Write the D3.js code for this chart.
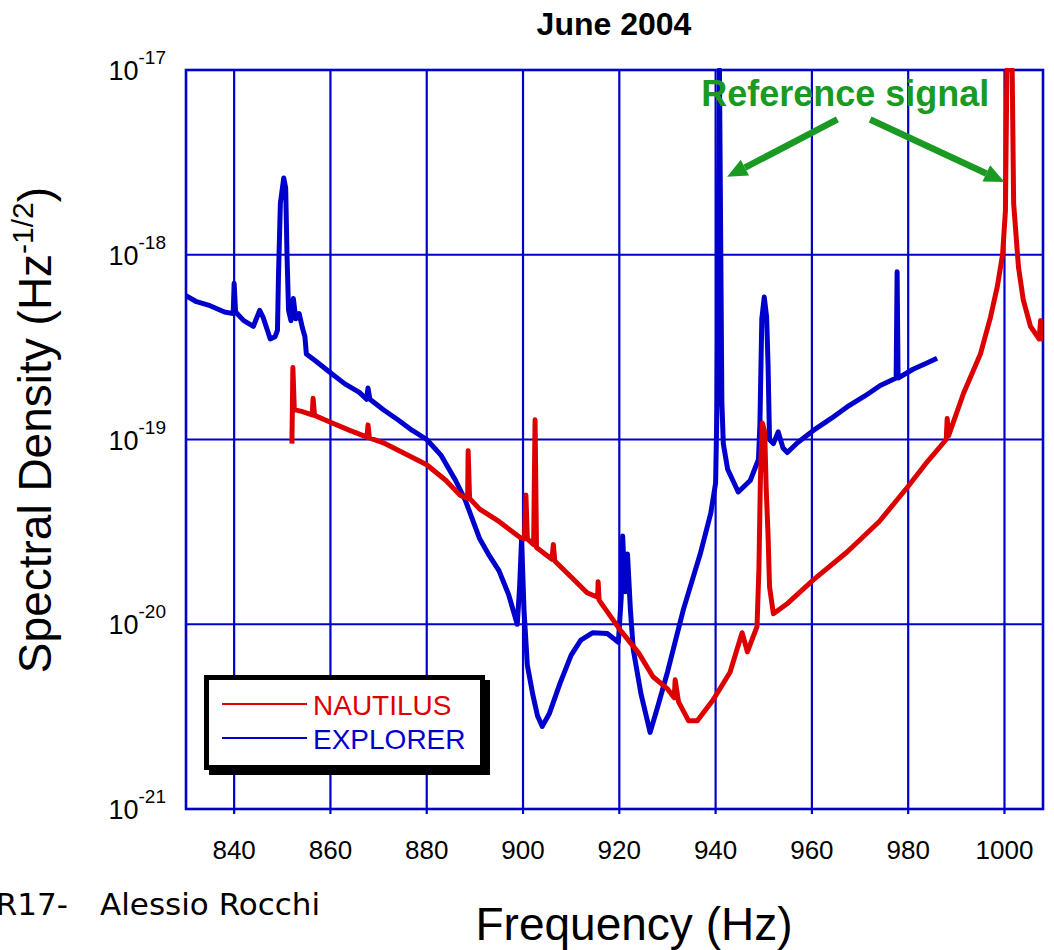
<!DOCTYPE html>
<html>
<head>
<meta charset="utf-8">
<script src="https://cdnjs.cloudflare.com/ajax/libs/d3/7.8.5/d3.min.js"></script>
<style>
  body { margin: 0; background: #fff; }
  svg { display: block; font-family: "Liberation Sans", Arial, sans-serif; }
</style>
</head>
<body>
<div id="chart"></div>
<script>
'use strict';

// axis ticks
var xTicks = [840, 860, 880, 900, 920, 940, 960, 980, 1000];
var yTicks = [1e-21, 1e-20, 1e-19, 1e-18, 1e-17];
var yTickExp = ['-21', '-20', '-19', '-18', '-17'];

// EXPLORER spectrum (Hz, Hz^-1/2)
var explorerFreq = [830, 832, 835, 838, 839.8, 840, 840.3, 842, 844, 845.3, 846, 847.5, 848.5, 849,
  849.2, 849.6, 850.3, 850.7, 851, 851.3, 851.8, 852.3, 852.8, 853.5, 854.2, 854.7, 855, 857,
  860, 863, 866, 867.5, 867.8, 868.2, 871, 874, 877, 880, 883, 886, 888, 891, 893, 895, 897,
  898.8, 899.3, 899.7, 900.2, 900.9, 902, 903, 904, 905.5, 907.7, 910, 912, 914.5, 917.5, 919.8,
  920.4, 920.7, 921.2, 921.7, 922.3, 922.9, 924.5, 926.4, 928, 930, 933.3, 936.8, 939, 940,
  940.3, 940.8, 941.3, 941.6, 942.5, 944.7, 947.2, 948.9, 949.2, 949.6, 950.1, 950.6, 950.9,
  951.2, 952, 953, 954, 954.9, 957, 960.3, 964, 967.3, 971, 974.2, 977.5, 977.7, 977.9, 981,
  984, 986];
var explorerAmp = [6.0e-19, 5.6e-19, 5.3e-19, 4.9e-19, 4.8e-19, 7.0e-19, 4.9e-19, 4.4e-19, 4.1e-19, 5.0e-19, 4.6e-19, 3.5e-19, 3.6e-19, 3.9e-19,
  7.5e-19, 1.9e-18, 2.6e-18, 2.3e-18, 9.5e-19, 5.0e-19, 4.4e-19, 5.8e-19, 4.5e-19, 4.8e-19, 4.0e-19, 3.6e-19, 2.9e-19, 2.65e-19,
  2.3e-19, 2.0e-19, 1.8e-19, 1.65e-19, 1.9e-19, 1.65e-19, 1.45e-19, 1.28e-19, 1.12e-19, 1.0e-19, 8.2e-20, 6.0e-20, 4.7e-20, 2.9e-20, 2.35e-20, 1.95e-20, 1.45e-20,
  1.0e-20, 1.6e-20, 2.9e-20, 1.2e-20, 6.0e-21, 4.2e-21, 3.2e-21, 2.8e-21, 3.3e-21, 4.8e-21, 6.8e-21, 8.2e-21, 9.0e-21, 8.9e-21, 8.0e-21,
  1.4e-20, 3.0e-20, 1.5e-20, 2.4e-20, 1.2e-20, 7.3e-21, 4.2e-21, 2.6e-21, 3.6e-21, 5.5e-21, 1.2e-20, 2.4e-20, 4.0e-20, 5.8e-20,
  1.6e-19, 1.0e-17, 1.6e-19, 9.5e-20, 6.9e-20, 5.2e-20, 6.0e-20, 7.8e-20, 1.2e-19, 4.5e-19, 5.9e-19, 4.6e-19, 2.5e-19,
  1.0e-19, 9.5e-20, 1.1e-19, 9.0e-20, 8.5e-20, 9.6e-20, 1.12e-19, 1.3e-19, 1.5e-19, 1.72e-19, 1.96e-19, 2.15e-19, 8.1e-19, 2.15e-19, 2.4e-19,
  2.6e-19, 2.75e-19];

// NAUTILUS spectrum (Hz, Hz^-1/2)
var nautilusFreq = [852, 852.2, 852.5, 854, 856.2, 856.4, 856.7, 860, 864, 867.6, 867.8, 868.1, 871, 875,
  880, 884, 886.9, 888.5, 888.6, 888.9, 891, 895, 899.4, 900.3, 900.6, 900.9, 902.2, 902.5, 902.8,
  906, 906.3, 906.6, 910, 913.3, 915.5, 915.6, 915.8, 920.2, 924, 927, 929.9, 931.4, 931.6, 932.3,
  934.4, 936.2, 939.5, 943, 945.5, 946.6, 948.6, 949.0, 949.3, 949.7, 950.2, 950.5, 950.9, 951.2,
  952, 955, 960.3, 967.3, 974, 979.8, 984, 987.9, 988.1, 988.4, 991.5, 995, 997.1, 998.5, 999.6,
  1000.2, 1000.5, 1001.6, 1001.9, 1002.9, 1003.9, 1005.4, 1007.2, 1007.5, 1008];
var nautilusAmp = [9.5e-20, 2.45e-19, 1.45e-19, 1.42e-19, 1.36e-19, 1.67e-19, 1.35e-19, 1.24e-19, 1.12e-19, 1.03e-19, 1.2e-19, 1.02e-19, 9.6e-20, 8.5e-20,
  7.3e-20, 6.0e-20, 5.0e-20, 4.8e-20, 8.7e-20, 4.8e-20, 4.2e-20, 3.6e-20, 2.95e-20, 2.9e-20, 5.0e-20, 2.9e-20, 2.7e-20, 1.28e-19, 2.6e-20,
  2.25e-20, 2.7e-20, 2.2e-20, 1.8e-20, 1.48e-20, 1.4e-20, 1.7e-20, 1.35e-20, 9.3e-21, 7.0e-21, 5.2e-21, 4.5e-21, 4.0e-21, 5.0e-21, 3.8e-21,
  3.0e-21, 3.0e-21, 3.9e-21, 5.5e-21, 9.0e-21, 7.1e-21, 9.7e-21, 2.0e-20, 6.0e-20, 1.23e-19, 1.1e-19, 5.5e-20, 3.0e-20, 1.6e-20,
  1.14e-20, 1.3e-20, 1.74e-20, 2.46e-20, 3.6e-20, 5.5e-20, 7.6e-20, 1.0e-19, 1.3e-19, 1.05e-19, 1.78e-19, 2.9e-19, 4.6e-19, 6.7e-19, 1.0e-18,
  1.74e-18, 1.0e-17, 1.0e-17, 1.9e-18, 8.6e-19, 5.7e-19, 4.1e-19, 3.5e-19, 4.4e-19, 3.4e-19];

// "Reference signal" arrows, in data units: [tailFreq, tailAmp, tipFreq, tipAmp]
var refArrows = [[965.3, 5.4e-18, 942.4, 2.64e-18], [972.1, 5.4e-18, 1000.0, 2.48e-18]];
var refLabelPos = [937.0, 6.4e-18];

var width = 1054, height = 950;
var plot = { left: 186, right: 1043, top: 70, bottom: 809 };
var gridBlue = '#0000cc', red = '#dd0000', blue = '#0000cc', green = '#1a9a22';

var x = d3.scaleLinear().domain([830, 1008]).range([plot.left, plot.right]);
var y = d3.scaleLog().domain([1e-21, 1e-17]).range([plot.bottom, plot.top]);

var svg = d3.select('#chart').append('svg').attr('width', width).attr('height', height);

svg.append('clipPath').attr('id', 'clip').append('rect')
  .attr('x', plot.left).attr('y', plot.top - 2)
  .attr('width', plot.right - plot.left).attr('height', plot.bottom - plot.top + 2);

// grid
var grid = svg.append('g').attr('stroke', gridBlue).attr('stroke-width', 2.2);
grid.selectAll('line.vx').data(xTicks).enter().append('line')
  .attr('x1', function (d) { return x(d); }).attr('x2', function (d) { return x(d); })
  .attr('y1', plot.top).attr('y2', plot.bottom + 5);
grid.selectAll('line.hy').data(yTicks).enter().append('line')
  .attr('y1', function (d) { return y(d); }).attr('y2', function (d) { return y(d); })
  .attr('x1', plot.left).attr('x2', plot.right);
grid.append('rect').attr('x', plot.left).attr('y', plot.top)
  .attr('width', plot.right - plot.left).attr('height', plot.bottom - plot.top)
  .attr('fill', 'none').attr('stroke-width', 2.6);

// x tick labels
svg.selectAll('text.xt').data(xTicks).enter().append('text')
  .attr('x', function (d) { return x(d); }).attr('y', 859)
  .attr('text-anchor', 'middle').style('font-size', '26px').text(function (d) { return d; });

// y tick labels, 10^n
var yl = svg.selectAll('text.yt').data(yTicks).enter().append('text')
  .attr('x', 166).attr('y', function (d) { return y(d) + 10; })
  .attr('text-anchor', 'end').style('font-size', '27px');
yl.append('tspan').text('10');
yl.append('tspan').attr('dy', -16).style('font-size', '19px')
  .text(function (d, i) { return yTickExp[i]; });

// curves
var line = d3.line().x(function (d) { return x(d[0]); }).y(function (d) { return y(d[1]); });
var explorer = d3.zip(explorerFreq, explorerAmp);
var nautilus = d3.zip(nautilusFreq, nautilusAmp);
var curves = svg.append('g').attr('clip-path', 'url(#clip)').attr('fill', 'none')
  .attr('stroke-width', 5).attr('stroke-linejoin', 'round');
curves.append('path').attr('stroke', blue).attr('d', line(explorer));
curves.append('path').attr('stroke', red).attr('d', line(nautilus));

// title and axis labels
svg.append('text').attr('x', 614).attr('y', 35).attr('text-anchor', 'middle')
  .style('font-size', '32px').style('font-weight', 'bold').text('June 2004');
svg.append('text').attr('x', 634).attr('y', 940).attr('text-anchor', 'middle')
  .style('font-size', '46px').text('Frequency (Hz)');
var ylab = svg.append('text').attr('transform', 'translate(51,430) rotate(-90)')
  .attr('text-anchor', 'middle').style('font-size', '46px');
ylab.append('tspan').text('Spectral Density (Hz');
ylab.append('tspan').attr('dy', -18).style('font-size', '30px').text('-1/2');
ylab.append('tspan').attr('dy', 18).text(')');

// footer
svg.append('text').attr('x', 68).attr('y', 915).attr('text-anchor', 'end')
  .style('font-family', '"DejaVu Sans", Verdana, sans-serif').style('font-size', '31px').text('R17-');
svg.append('text').attr('x', 100).attr('y', 915)
  .style('font-family', '"DejaVu Sans", Verdana, sans-serif').style('font-size', '31px').text('Alessio Rocchi');

// reference signal annotation
svg.append('text').attr('x', x(refLabelPos[0])).attr('y', y(refLabelPos[1]))
  .style('font-size', '36px').style('font-weight', 'bold').style('fill', green).text('Reference signal');
refArrows.forEach(function (a) {
  var x0 = x(a[0]), y0 = y(a[1]), x1 = x(a[2]), y1 = y(a[3]);
  var ang = Math.atan2(y1 - y0, x1 - x0), hl = 20, hw = 9;
  var bx = x1 - hl * Math.cos(ang), by = y1 - hl * Math.sin(ang);
  svg.append('line').attr('x1', x0).attr('y1', y0).attr('x2', bx).attr('y2', by)
    .attr('stroke', green).attr('stroke-width', 6.5);
  svg.append('path').attr('fill', green).attr('d', 'M' + x1 + ',' + y1 +
    'L' + (bx + hw * Math.sin(ang)) + ',' + (by - hw * Math.cos(ang)) +
    'L' + (bx - hw * Math.sin(ang)) + ',' + (by + hw * Math.cos(ang)) + 'Z');
});

// legend
var legend = svg.append('g');
legend.append('rect').attr('x', 209).attr('y', 680).attr('width', 281).attr('height', 95).attr('fill', '#000');
legend.append('rect').attr('x', 206.5).attr('y', 677.5).attr('width', 276).attr('height', 90)
  .attr('fill', '#fff').attr('stroke', '#000').attr('stroke-width', 5);
var legendItems = [['NAUTILUS', red, 704], ['EXPLORER', blue, 738]];
legendItems.forEach(function (it) {
  legend.append('line').attr('x1', 222).attr('x2', 307).attr('y1', it[2]).attr('y2', it[2])
    .attr('stroke', it[1]).attr('stroke-width', 2);
  legend.append('text').attr('x', 313).attr('y', it[2] + 11).style('font-size', '28px')
    .style('fill', it[1]).text(it[0]);
});
</script>
</body>
</html>
